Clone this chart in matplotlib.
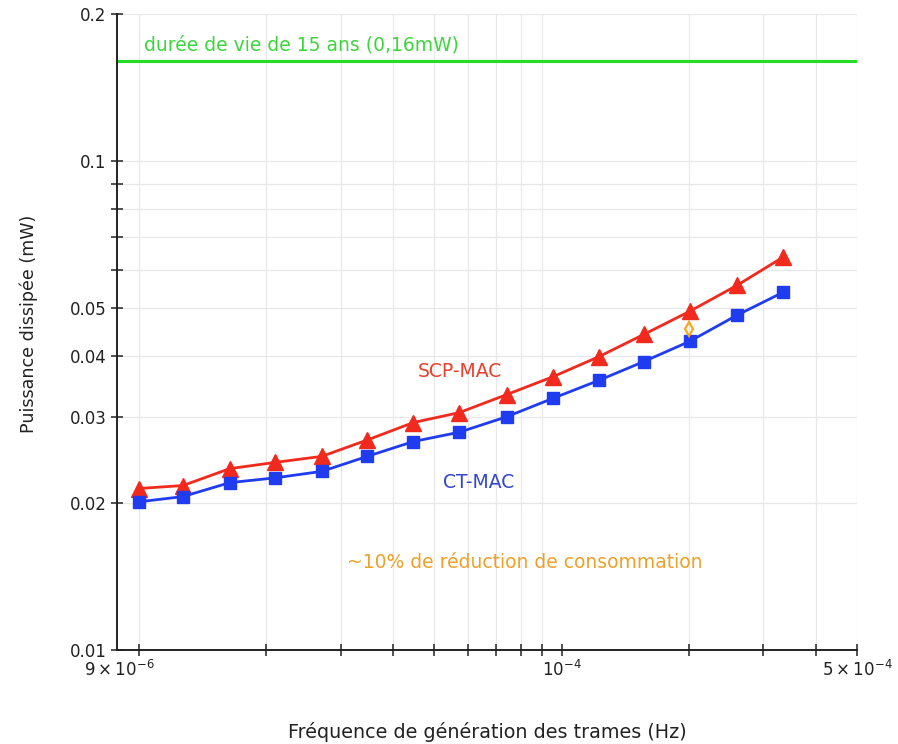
import numpy as np
import matplotlib
matplotlib.use("Agg")
import matplotlib.pyplot as plt
from matplotlib.ticker import FixedLocator, NullFormatter

plt.rcParams['font.family'] = ['DejaVu Sans']

# frame generation frequency (Hz)
freq = [1.0e-5, 1.27e-5, 1.64e-5, 2.10e-5, 2.71e-5, 3.47e-5, 4.46e-5, 5.73e-5,
        7.41e-5, 9.52e-5, 1.224e-4, 1.564e-4, 2.01e-4, 2.60e-4, 3.34e-4]

# dissipated power (mW)
scp_mac = [0.0214, 0.0217, 0.0235, 0.0242, 0.0249, 0.0269, 0.0292, 0.0306,
           0.0333, 0.0362, 0.0398, 0.0442, 0.0493, 0.0557, 0.0636]
ct_mac = [0.0201, 0.0206, 0.0220, 0.0225, 0.0232, 0.0249, 0.0267, 0.0279,
          0.0300, 0.0327, 0.0356, 0.0389, 0.0428, 0.0484, 0.0539]

lifetime_power = 0.16  # 15 years lifetime
marker_pt = (2.0e-4, 0.0453)

x_major = [9e-6, 1e-4, 5e-4]
x_major_labels = [r'$9\times10^{-6}$', r'$10^{-4}$', r'$5\times10^{-4}$']
x_minor = [1e-5, 2e-5, 3e-5, 4e-5, 5e-5, 6e-5, 7e-5, 8e-5, 9e-5, 2e-4, 3e-4, 4e-4]
y_major = [0.01, 0.02, 0.03, 0.04, 0.05, 0.1, 0.2]
y_major_labels = ['0.01', '0.02', '0.03', '0.04', '0.05', '0.1', '0.2']
y_minor = [0.06, 0.07, 0.08, 0.09]

fig = plt.figure(figsize=(8.98, 7.44), dpi=100)
ax = fig.add_axes([0.1303, 0.1263, 0.8240, 0.8549])
ax.set_xscale('log')
ax.set_yscale('log')
ax.set_xlim(8.87e-6, 5e-4)
ax.set_ylim(0.01, 0.2)

# grid
for x in x_minor + [5e-4]:
    ax.axvline(x, color='#e8e8e8', lw=0.9, zorder=0)
for y in y_major + y_minor:
    ax.axhline(y, color='#e8e8e8', lw=0.9, zorder=0)

ax.axhline(lifetime_power, color='#22dd22', lw=2.2, zorder=2)

ax.plot(freq, scp_mac, color='#f22a1e', lw=2.0, marker='^', markersize=11, zorder=3)
ax.plot(freq, ct_mac, color='#1f3cf0', lw=2.0, marker='s', markersize=8, zorder=4)
ax.plot([marker_pt[0]], [marker_pt[1]], marker='d', markersize=7, mfc='none',
        mec='#f5a623', mew=1.6, ls='none', zorder=5)

ax.text(1.03e-5, 0.173, 'durée de vie de 15 ans (0,16mW)', color='#3cd63c',
        fontsize=13.5, va='center', ha='left')
ax.text(5.76e-5, 0.0372, 'SCP-MAC', color='#e8402c', fontsize=13.5, va='center', ha='center')
ax.text(6.36e-5, 0.0220, 'CT-MAC', color='#3346d0', fontsize=13.5, va='center', ha='center')
ax.text(8.17e-5, 0.0151, '~10% de réduction de consommation', color='#eea12a',
        fontsize=13.5, va='center', ha='center')

ax.xaxis.set_major_locator(FixedLocator(x_major))
ax.set_xticklabels(x_major_labels, fontsize=12)
ax.xaxis.set_minor_locator(FixedLocator(x_minor))
ax.xaxis.set_minor_formatter(NullFormatter())
ax.yaxis.set_major_locator(FixedLocator(y_major))
ax.set_yticklabels(y_major_labels, fontsize=12)
ax.yaxis.set_minor_locator(FixedLocator(y_minor))
ax.yaxis.set_minor_formatter(NullFormatter())

ax.tick_params(which='both', direction='inout', length=8, width=1.1, color='#222222',
               labelcolor='#222222')
ax.tick_params(axis='x', which='both', pad=3)
ax.xaxis.get_major_ticks()[0].tick1line.set_visible(False)

for s in ['top', 'right']:
    ax.spines[s].set_visible(False)
for s in ['left', 'bottom']:
    ax.spines[s].set_linewidth(1.4)
    ax.spines[s].set_color('#222222')

ax.set_xlabel('Fréquence de génération des trames (Hz)', fontsize=13.8, labelpad=30,
              color='#222222')
ax.set_ylabel('Puissance dissipée (mW)', fontsize=12.6, labelpad=22, color='#222222')
ax.yaxis.set_label_coords(-0.107, 0.513)

fig.savefig('out.png', dpi=100)
